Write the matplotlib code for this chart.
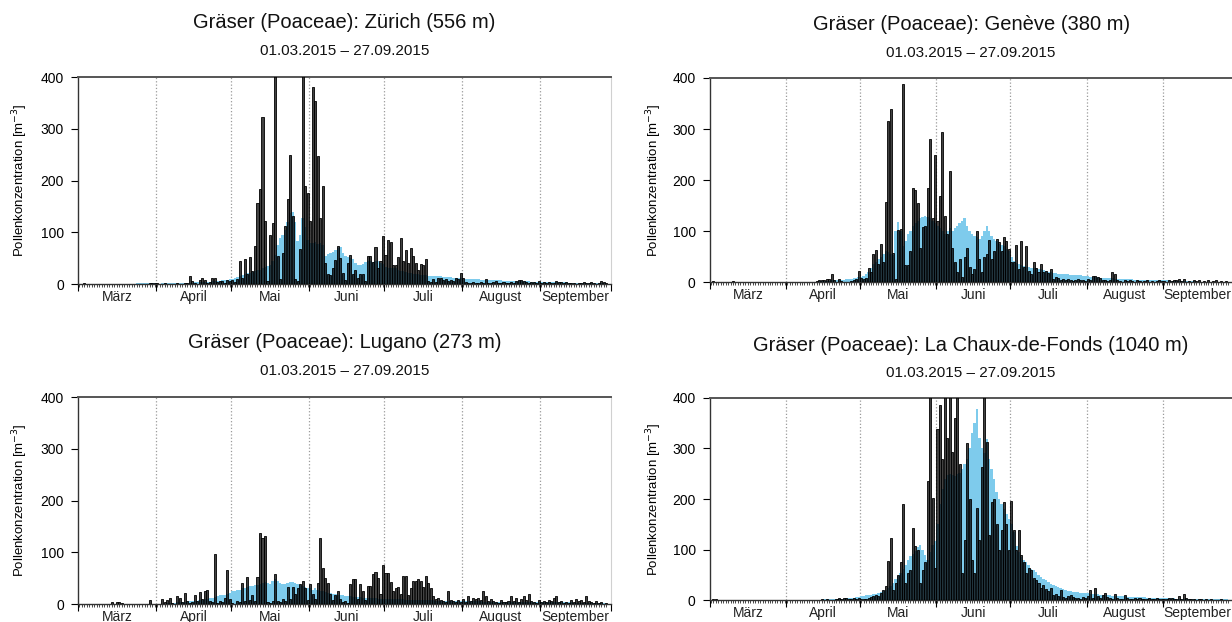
import numpy as np
import pandas as pd
import matplotlib
matplotlib.use("Agg")
import matplotlib.pyplot as plt

plt.rcParams["font.family"] = ["Liberation Sans", "DejaVu Sans"]

# daily series 01.03.2015 - 27.09.2015
dates = pd.date_range("2015-03-01", "2015-09-27", freq="D")
month_names = ["März", "April", "Mai", "Juni", "Juli", "August", "September"]
stations = ["Zürich (556 m)", "Genève (380 m)", "Lugano (273 m)", "La Chaux-de-Fonds (1040 m)"]

# measured concentration (bars), one chunk per month
zurich_obs = (
    [0, 0, 1, 0, 0, 0, 0, 0, 0, 0, 0, 0, 0, 0, 0, 0, 0, 0, 0, 0, 0, 0, 0, 0, 0, 0, 0, 0, 1, 2, 1]
    + [1, 0, 0, 1, 0, 0, 0, 0, 1, 0, 0, 1, 2, 16, 5, 1, 0, 8, 12, 7, 2, 4, 12, 11, 3, 5, 6, 2, 8, 5]
    + [8, 4, 10, 44, 12, 48, 20, 52, 25, 74, 157, 183, 322, 121, 5, 94, 117, 520, 54, 10,
       60, 112, 165, 249, 131, 10, 5, 68, 450, 189, 176]
    + [121, 381, 353, 247, 128, 190, 41, 19, 17, 31, 47, 73, 50, 22, 8, 41, 57, 20, 28, 12,
       19, 19, 6, 55, 55, 43, 71, 31, 44, 92]
    + [57, 85, 82, 37, 37, 52, 89, 45, 66, 41, 70, 54, 41, 28, 39, 36, 48, 6, 4, 10,
       3, 12, 12, 8, 10, 5, 8, 6, 12, 10, 21]
    + [12, 3, 2, 1, 4, 2, 1, 3, 1, 9, 2, 1, 3, 5, 2, 1, 4, 2, 1, 3, 2, 6, 7, 7, 5, 3, 2, 4, 3, 1, 6]
    + [2, 3, 1, 4, 2, 1, 6, 3, 4, 2, 4, 1, 2, 1, 0, 2, 1, 3, 1, 2, 4, 1, 0, 2, 5, 3, 2]
)
geneve_obs = (
    [0, 2, 0, 0, 1, 0, 0, 0, 0, 2, 0, 0, 0, 0, 0, 1, 0, 0, 0, 0, 0, 0, 0, 0, 0, 0, 0, 0, 0, 0, 0]
    + [0, 0, 0, 0, 0, 1, 0, 0, 0, 0, 1, 1, 2, 3, 4, 3, 5, 6, 15, 3, 1, 5, 2, 1, 0, 1, 2, 4, 6, 21]
    + [8, 5, 8, 28, 20, 54, 62, 35, 75, 40, 157, 315, 339, 57, 5, 102, 103, 388, 33, 33,
       60, 185, 180, 154, 66, 108, 110, 185, 281, 125, 249]
    + [120, 169, 295, 130, 95, 218, 66, 40, 20, 45, 10, 50, 66, 30, 15, 25, 100, 45, 20, 50,
       55, 83, 45, 60, 85, 78, 60, 88, 80, 65]
    + [40, 40, 72, 25, 80, 30, 70, 22, 15, 40, 28, 20, 35, 20, 22, 18, 25, 5, 10, 8,
       4, 6, 3, 5, 4, 2, 3, 5, 4, 3, 2]
    + [5, 4, 12, 12, 10, 8, 4, 3, 2, 3, 20, 16, 3, 2, 1, 3, 2, 4, 2, 1, 3, 2, 1, 2, 3, 1, 2, 1, 2, 3, 2]
    + [2, 1, 3, 2, 4, 3, 5, 2, 6, 1, 2, 1, 3, 2, 4, 1, 2, 1, 3, 1, 2, 3, 1, 2, 1, 2, 1]
)
lugano_obs = (
    [0, 0, 0, 0, 0, 0, 0, 0, 0, 0, 0, 0, 0, 3, 0, 3, 4, 2, 0, 0, 0, 0, 0, 0, 0, 0, 0, 0, 8, 0, 0]
    + [0, 0, 10, 3, 8, 12, 2, 0, 15, 12, 3, 22, 5, 2, 3, 18, 5, 24, 10, 25, 28, 5, 3, 97, 2, 5, 3, 12, 65, 10]
    + [2, 0, 5, 3, 40, 5, 53, 8, 18, 5, 53, 137, 128, 132, 3, 2, 5, 58, 5, 3,
       10, 5, 32, 10, 32, 20, 30, 38, 44, 30, 8]
    + [38, 20, 10, 40, 128, 70, 50, 40, 20, 8, 18, 25, 10, 3, 5, 2, 38, 48, 48, 10,
       38, 25, 8, 35, 35, 58, 62, 50, 20, 75]
    + [60, 60, 42, 25, 30, 33, 20, 55, 55, 18, 30, 45, 45, 48, 45, 32, 55, 40, 30, 15,
       10, 12, 8, 5, 3, 25, 8, 5, 4, 8, 3]
    + [10, 4, 15, 6, 12, 10, 12, 8, 25, 15, 6, 10, 5, 3, 2, 8, 4, 3, 5, 15, 6, 12, 4, 10, 15, 8, 20, 5, 3, 2, 8]
    + [3, 5, 4, 8, 6, 12, 15, 4, 5, 2, 3, 2, 8, 4, 10, 6, 8, 3, 15, 5, 3, 2, 5, 2, 3, 1, 2]
)
chaux_obs = (
    [1, 2, 3, 1, 0, 1, 0, 0, 0, 0, 0, 0, 0, 0, 0, 0, 0, 0, 0, 0, 0, 0, 0, 0, 0, 0, 0, 0, 0, 0, 0]
    + [0, 0, 0, 0, 0, 0, 0, 0, 0, 0, 0, 0, 1, 0, 2, 1, 2, 1, 0, 1, 3, 4, 3, 4, 4, 2, 3, 4, 2, 5]
    + [3, 2, 3, 5, 6, 8, 10, 8, 15, 20, 28, 78, 123, 20, 35, 50, 75, 190, 35, 55,
       60, 143, 107, 100, 35, 60, 75, 235, 520, 203, 65]
    + [338, 385, 280, 460, 320, 540, 293, 360, 480, 270, 55, 120, 310, 200, 80, 55, 183, 120, 263, 440,
       312, 130, 195, 200, 150, 100, 140, 195, 150, 100]
    + [197, 140, 100, 140, 90, 75, 55, 65, 60, 45, 40, 35, 25, 30, 22, 18, 25, 10, 12, 8,
       20, 6, 5, 8, 10, 6, 4, 5, 3, 6, 4]
    + [8, 20, 5, 25, 8, 5, 10, 15, 6, 4, 3, 12, 5, 3, 2, 10, 4, 3, 2, 5, 3, 4, 2, 3, 2, 4, 3, 2, 5, 3, 2]
    + [3, 2, 4, 5, 3, 2, 8, 3, 12, 4, 2, 3, 2, 1, 2, 3, 1, 2, 1, 2, 1, 0, 1, 2, 1, 0, 1]
)

# long-term mean (blue area)
zurich_clim = (
    [0] * 23 + [1, 1, 1, 1, 1, 1, 1, 1]
    + [0, 0, 1, 1, 1, 1, 1, 1, 1, 1, 2, 2, 2, 2, 2, 3, 3, 3, 3, 4, 4, 4, 5, 5, 6, 6, 7, 7, 8, 9]
    + [10, 12, 14, 16, 18, 20, 21, 22, 24, 26, 27, 28, 30, 33, 35, 37, 45, 57, 75, 89,
       95, 105, 120, 137, 140, 120, 83, 95, 128, 110, 85]
    + [80, 80, 82, 78, 80, 75, 54, 58, 60, 62, 66, 70, 72, 60, 54, 52, 50, 48, 40, 37,
       36, 38, 42, 44, 44, 43, 44, 45, 40, 38]
    + [32, 31, 30, 30, 30, 28, 26, 25, 24, 22, 21, 20, 20, 19, 18, 17, 17, 16, 16, 16,
       15, 15, 15, 14, 14, 13, 13, 12, 12, 11, 11]
    + [10, 10, 10, 9, 9, 9, 9, 8, 8, 8, 8, 7, 7, 7, 7, 7, 6, 6, 6, 6, 6, 5, 5, 5, 5, 5, 5, 4, 4, 4, 4]
    + [4, 4, 4, 3, 3, 3, 3, 3, 3, 3, 3, 2, 2, 2, 2, 2, 2, 2, 2, 2, 2, 2, 2, 1, 1, 1, 1]
)
geneve_clim = (
    [0] * 31
    + [0, 0, 0, 0, 0, 0, 0, 1, 1, 1, 1, 1, 1, 2, 2, 2, 2, 2, 3, 3, 3, 3, 4, 4, 5, 5, 6, 7, 8, 9]
    + [10, 12, 15, 20, 28, 35, 40, 45, 50, 55, 60, 58, 55, 52, 100, 118, 100, 70, 80, 95,
       100, 110, 115, 120, 125, 128, 130, 128, 125, 120, 115]
    + [110, 105, 100, 95, 100, 105, 100, 105, 110, 115, 120, 125, 110, 100, 95, 90, 88, 85, 90, 100,
       110, 100, 90, 85, 80, 75, 72, 70, 65, 60]
    + [50, 42, 38, 35, 33, 32, 30, 30, 28, 27, 27, 26, 25, 24, 22, 20, 19, 18, 17, 16,
       16, 15, 15, 15, 14, 14, 14, 13, 13, 12, 12]
    + [11, 10, 10, 9, 9, 8, 8, 8, 7, 7, 7, 6, 6, 6, 6, 5, 5, 5, 5, 4, 4, 4, 4, 4, 3, 3, 3, 3, 3, 3, 3]
    + [3, 3, 3, 2, 2, 2, 2, 2, 2, 2, 2, 2, 2, 1, 1, 1, 1, 1, 1, 1, 1, 1, 1, 1, 1, 1, 1]
)
lugano_clim = (
    [0] * 26 + [1, 1, 1, 1, 1]
    + [1, 1, 1, 1, 2, 2, 2, 2, 3, 3, 3, 4, 4, 5, 5, 6, 6, 7, 8, 9, 10, 11, 12, 13, 15, 17, 18, 18, 20, 22]
    + [25, 26, 28, 28, 30, 30, 32, 34, 35, 36, 37, 38, 40, 42, 40, 38, 45, 48, 44, 40,
       38, 38, 40, 42, 42, 40, 38, 36, 34, 32, 30]
    + [30, 28, 30, 28, 26, 25, 24, 22, 22, 20, 20, 18, 18, 17, 16, 15, 15, 14, 14, 13,
       13, 12, 12, 12, 11, 11, 11, 10, 10, 10]
    + [10, 10, 10, 9, 9, 9, 9, 9, 8, 8, 8, 8, 8, 8, 7, 7, 7, 7, 7, 7, 6, 6, 6, 6, 6, 6, 6, 5, 5, 5, 5]
    + [5, 5, 5, 5, 5, 5, 5, 5, 4, 4, 4, 4, 4, 4, 4, 4, 4, 4, 4, 4, 4, 4, 3, 3, 3, 3, 3, 3, 3, 3, 3]
    + [3, 3, 3, 3, 3, 3, 3, 3, 3, 3, 3, 3, 3, 2, 2, 2, 2, 2, 2, 2, 2, 2, 2, 2, 2, 2, 2]
)
chaux_clim = (
    [1, 1, 1, 1, 1] + [0] * 26
    + [0, 0, 0, 0, 0, 0, 0, 0, 0, 1, 1, 1, 1, 1, 1, 2, 2, 2, 2, 2, 3, 3, 3, 3, 4, 4, 5, 5, 6, 7]
    + [8, 9, 10, 10, 11, 12, 13, 14, 16, 18, 20, 24, 28, 35, 42, 48, 55, 62, 70, 80,
       88, 92, 98, 105, 110, 100, 90, 80, 95, 110, 118]
    + [150, 190, 220, 240, 248, 250, 248, 246, 250, 252, 260, 270, 280, 300, 330, 350, 378, 320, 300, 290,
       319, 280, 260, 240, 214, 200, 190, 180, 170, 161]
    + [150, 135, 108, 95, 85, 80, 75, 70, 62, 60, 56, 50, 46, 43, 40, 36, 33, 30, 28, 26,
       24, 22, 20, 19, 18, 17, 16, 16, 15, 15, 14]
    + [14, 13, 13, 12, 12, 11, 11, 10, 10, 10, 9, 9, 9, 8, 8, 8, 7, 7, 7, 7, 6, 6, 6, 6, 5, 5, 5, 5, 5, 5, 4]
    + [4, 4, 4, 4, 4, 3, 3, 3, 3, 3, 3, 3, 3, 3, 3, 2, 2, 2, 2, 2, 2, 2, 2, 2, 2, 2, 2]
)

observed = [zurich_obs, geneve_obs, lugano_obs, chaux_obs]
climate = [zurich_clim, geneve_clim, lugano_clim, chaux_clim]

BAR_FACE = (0, 0, 0, 0.74)
CLIM_BLUE = "#7ecbec"

# axes rectangles in figure fraction, title / subtitle heights
AX_POS = [
    [0.0633, 0.5434, 0.4326, 0.3328],
    [0.5760, 0.5466, 0.4245, 0.3280],
    [0.0633, 0.0289, 0.4326, 0.3328],
    [0.5760, 0.0346, 0.4245, 0.3260],
]
TITLE_Y = [(0.9646, 0.9180), (0.9614, 0.9148), (0.4486, 0.4035), (0.4453, 0.4003)]
YLABEL_X = [-0.090, -0.088, -0.090, -0.088]

days = np.arange(len(dates))
month_starts = [i for i, d in enumerate(dates) if d.day == 1]
xmax = len(dates) + 0.8
bounds = [b - 0.5 for b in month_starts] + [xmax]

fig = plt.figure(figsize=(12.32, 6.22), dpi=100)

for k in range(4):
    ax = fig.add_axes(AX_POS[k])
    obs = np.array(observed[k])
    clim = np.array(climate[k])

    ax.vlines(bounds[1:-1], 0, 400, colors="#9a9a9a", linestyles=":", linewidth=0.9, zorder=1)
    ax.fill_between(days, clim, step="mid", color=CLIM_BLUE, linewidth=0, zorder=2)
    ax.bar(days, obs, width=0.82, color=BAR_FACE, edgecolor="black", linewidth=0.6, zorder=3)

    ax.set_xlim(-0.5, xmax)
    ax.set_ylim(0, 400)
    ax.set_yticks([0, 100, 200, 300, 400])
    ax.set_xticks(bounds)
    ax.set_xticks(days, minor=True)
    ax.tick_params(axis="x", which="major", length=5, width=0.8, labelbottom=False)
    ax.tick_params(axis="x", which="minor", length=2.5, width=0.5)
    ax.tick_params(axis="y", length=5, width=0.8, labelsize=10, pad=5)

    for side in ["left", "bottom"]:
        ax.spines[side].set_color("#333333")
        ax.spines[side].set_linewidth(1.0)
    ax.spines["top"].set_color("#555555")
    ax.spines["top"].set_linewidth(1.4)
    ax.spines["right"].set_color("#d0d0d0")
    ax.spines["right"].set_linewidth(0.8)

    for i, name in enumerate(month_names):
        ax.text((bounds[i] + bounds[i + 1]) / 2, -0.064, name, transform=ax.get_xaxis_transform(),
                ha="center", va="center", fontsize=10, color="#222222")

    ax.set_ylabel("Pollenkonzentration [m$^{-3}$]", fontsize=9.5)
    ax.yaxis.set_label_coords(YLABEL_X[k], 0.5)

    cx = AX_POS[k][0] + AX_POS[k][2] / 2
    fig.text(cx, TITLE_Y[k][0], f"Gräser (Poaceae): {stations[k]}", ha="center", va="center",
             fontsize=14.5, color="#111111")
    fig.text(cx, TITLE_Y[k][1], "01.03.2015 – 27.09.2015", ha="center", va="center",
             fontsize=11, color="#111111")

fig.savefig("out.png", dpi=100)
plt.close(fig)
